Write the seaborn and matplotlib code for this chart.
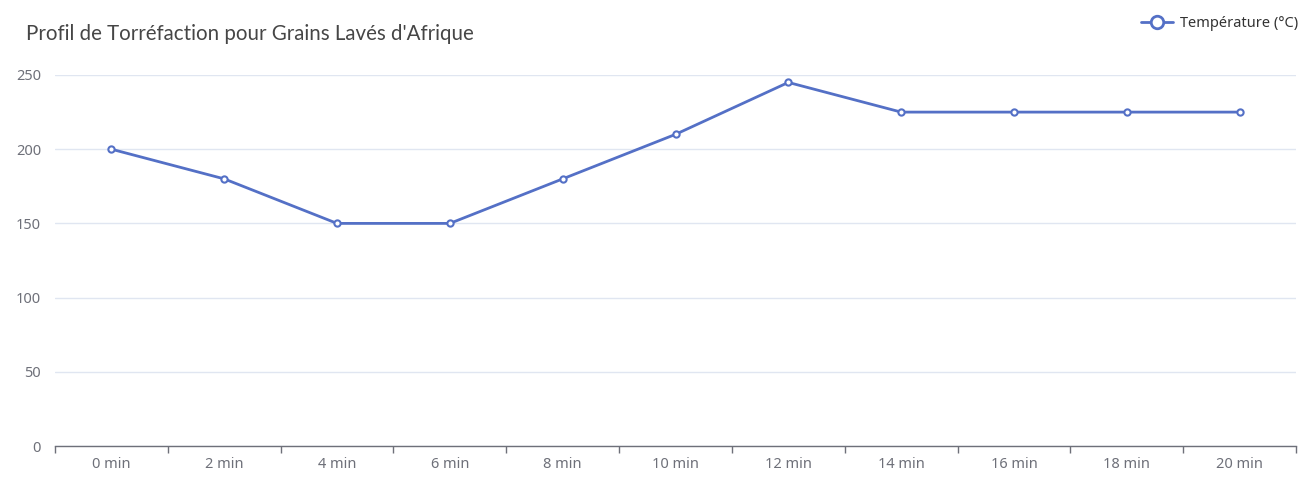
import matplotlib
matplotlib.use("Agg")
import matplotlib.pyplot as plt
import seaborn as sns
import pandas as pd
import numpy as np
from matplotlib.lines import Line2D

categories = ["0 min", "2 min", "4 min", "6 min", "8 min", "10 min",
              "12 min", "14 min", "16 min", "18 min", "20 min"]
temperatures = [200, 180, 150, 150, 180, 210, 245, 225, 225, 225, 225]
y_ticks = [0, 50, 100, 150, 200, 250]
series_name = "Température (°C)"
title = "Profil de Torréfaction pour Grains Lavés d'Afrique"

sns.set_theme(style="white")
plt.rcParams['font.family'] = ['Noto Sans', 'DejaVu Sans']

df = pd.DataFrame({"cat": categories, "temp": temperatures, "pos": np.arange(len(categories))})

W, H = 1316, 491
fig = plt.figure(figsize=(W / 100, H / 100), dpi=100)
ax = fig.add_axes([55 / W, (H - 446) / H, (1296 - 55) / W, (446 - 75) / H])

color = "#5470c6"
sns.lineplot(data=df, x="pos", y="temp", ax=ax, color=color, linewidth=2,
             marker="o", markersize=4.5, markerfacecolor="white",
             markeredgecolor=color, markeredgewidth=1.5, label=series_name,
             legend=False)

ax.set_xlim(-0.5, len(categories) - 0.5)
ax.set_ylim(0, 250)
ax.set_yticks(y_ticks)
ax.set_yticklabels([str(v) for v in y_ticks])
ax.set_xticks(np.arange(len(categories)))
ax.set_xticklabels(categories)
ax.set_xticks(np.arange(-0.5, len(categories)), minor=True)
ax.tick_params(axis="x", which="major", bottom=False, length=0, pad=8,
               labelsize=10.5, labelcolor="#6e7079")
ax.tick_params(axis="x", which="minor", bottom=True, length=5, width=1,
               color="#6e7079", direction="out")
ax.tick_params(axis="y", left=False, length=0, pad=10, labelsize=10.5, labelcolor="#6e7079")
ax.set_xlabel("")
ax.set_ylabel("")
ax.grid(axis="y", color="#e0e6f1", linewidth=1)
ax.set_axisbelow(True)
for s in ["top", "right", "left"]:
    ax.spines[s].set_visible(False)
ax.spines["bottom"].set_color("#6e7079")
ax.spines["bottom"].set_linewidth(1)

fig.text(26 / W, 1 - 34 / H, title, fontsize=14.8, color="#464646",
         va="center", ha="left", family=["Lato", "DejaVu Sans"])

handle = Line2D([0], [0], color=color, linewidth=2, marker="o", markersize=9,
                markerfacecolor="white", markeredgecolor=color, markeredgewidth=2)
fig.legend([handle], [series_name], loc="upper right",
           bbox_to_anchor=(1 - 12 / W, 1 - 10 / H), frameon=False,
           fontsize=10.5, handlelength=2.2, handletextpad=0.5,
           labelcolor="#333333", borderaxespad=0)

fig.savefig("out.png", dpi=100)
